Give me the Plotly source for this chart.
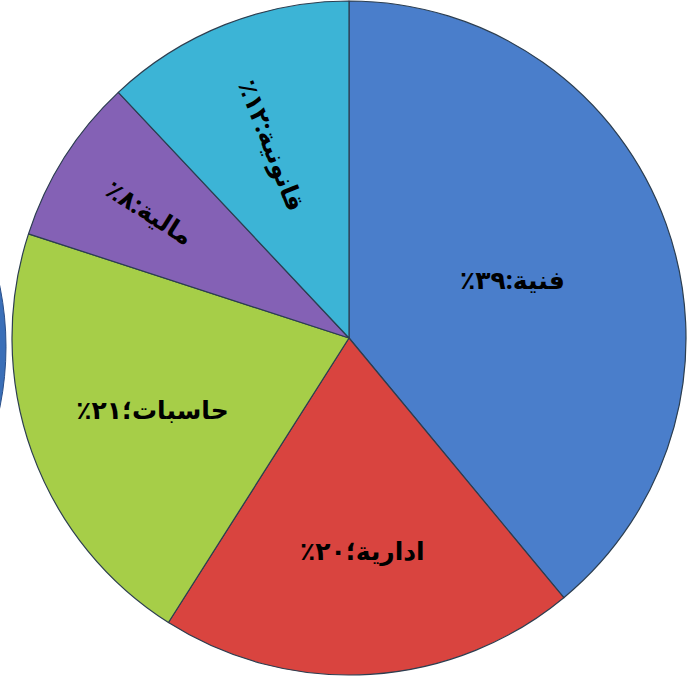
import plotly.graph_objects as go

categories = ["فنية", "ادارية", "حاسبات", "مالية", "قانونية"]
values = [39, 20, 21, 8, 12]
pct_labels = ["٣٩٪", "٢٠٪", "٢١٪", "٨٪", "١٢٪"]
separators = [":", "؛", "؛", ":", ":"]
colors = ["#4a7ecb", "#d9443f", "#a6ce48", "#8461b5", "#3cb4d6"]
horizontal = [True, True, True, False, False]

W, H = 698, 676
dom_x = [12 / W, 686 / W]
dom_y = [0, 1]

RLE, PDF = "\u202B", "\u202C"
full = [f"{RLE}{c}{s}{p}{PDF}" for c, s, p in zip(categories, separators, pct_labels)]
texts_h = [t if h else "" for t, h in zip(full, horizontal)]
texts_r = [t if not h else "" for t, h in zip(full, horizontal)]

font = dict(family="Noto Sans, DejaVu Sans", size=25, color="black", weight="bold")

fig = go.Figure()
fig.add_trace(go.Pie(
    labels=categories, values=values, sort=False, direction="clockwise", rotation=0,
    marker=dict(colors=colors, line=dict(color="#2c3e50", width=1.2)),
    text=texts_h, textinfo="text", textposition="inside", insidetextorientation="horizontal",
    textfont=font, domain=dict(x=dom_x, y=dom_y), showlegend=False, hoverinfo="skip",
))
fig.add_trace(go.Pie(
    labels=categories, values=values, sort=False, direction="clockwise", rotation=0,
    marker=dict(colors=["rgba(0,0,0,0)"] * 5, line=dict(width=0)),
    text=texts_r, textinfo="text", textposition="inside", insidetextorientation="radial",
    textfont=font, domain=dict(x=dom_x, y=dom_y), showlegend=False, hoverinfo="skip",
))

# partial neighbouring pie at the left edge
fig.add_shape(type="circle", xref="paper", yref="paper",
              x0=-0.86, x1=0.0086, y0=0.039, y1=0.935,
              fillcolor="#3a6fb8", line=dict(color="#2a4f88", width=1), layer="below")

fig.update_layout(width=W, height=H, margin=dict(l=0, r=0, t=0, b=0),
                  paper_bgcolor="white", plot_bgcolor="white")
fig.write_html("out.html", config={"displayModeBar": False},
               post_script="document.body.style.margin='0';")
